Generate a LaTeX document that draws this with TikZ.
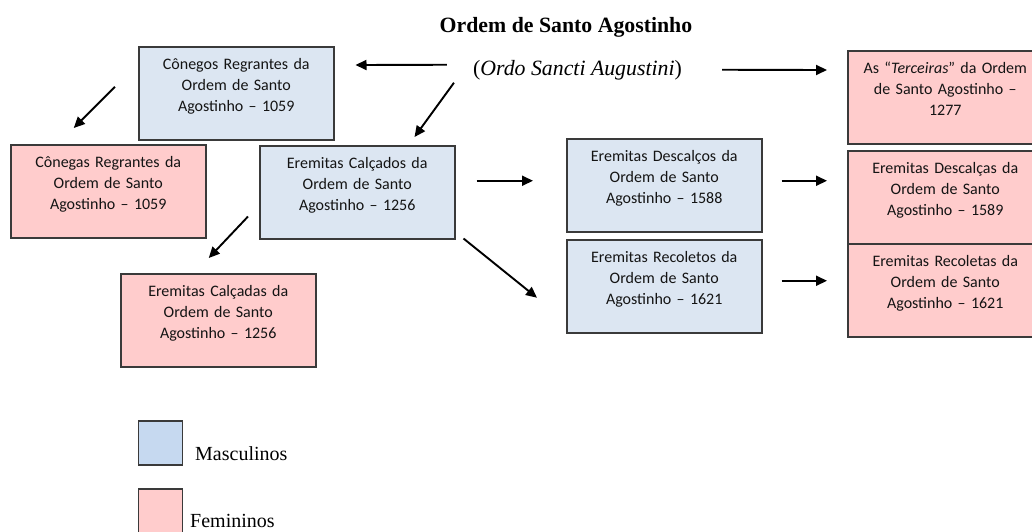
\documentclass[tikz,border=0pt]{standalone}
\usepackage{fontspec}
\setmainfont{Liberation Serif}
\newfontfamily\carlito{Carlito}
\usepackage{xcolor}
\usepackage{tikz}
\usetikzlibrary{calc,arrows.meta}
\definecolor{masc}{HTML}{DCE6F2}
\definecolor{fem}{HTML}{FFCCCC}
\definecolor{mascleg}{HTML}{C6D9F0}
\definecolor{femleg}{HTML}{FFCCCC}
\definecolor{border}{HTML}{3A3A3A}
\definecolor{ink}{HTML}{141414}
\tikzset{
  ordbox/.style={draw=border, line width=1.5pt, anchor=north west, text=ink,
    font=\carlito\fontsize{16}{21}\selectfont, text width=185pt, align=center,
    inner xsep=5pt, inner ysep=6pt, text height=17pt, text depth=64pt},
  mbox/.style={ordbox, fill=masc},
  wbox/.style={ordbox, fill=fem},
  legbox/.style={draw=border, line width=1.5pt, minimum size=44pt, inner sep=0pt},
  arr/.style={line width=1.9pt, -{Triangle[length=11pt,width=10pt]}},
  lab/.style={inner sep=0pt, anchor=base, font=\fontsize{21.8}{26}\selectfont}
}

\begin{document}
\begin{tikzpicture}[x=1pt, y=-1pt]
  \useasboundingbox (0,0) rectangle (1032,531);

  \node[lab, font=\bfseries\fontsize{21.8}{26}\selectfont] (title) at (566,32) {Ordem de Santo Agostinho};
  \node[lab] (sub) at (577.5,75) {(\textit{Ordo Sancti Augustini})};

  % masculine and feminine branches
  \node[mbox] (cr)  at (138,46)  {Cônegos Regrantes da\\Ordem de Santo\\Agostinho – 1059};
  \node[wbox] (cf)  at (10,144)  {Cônegas Regrantes da\\Ordem de Santo\\Agostinho – 1059};
  \node[mbox] (ec)  at (259,145) {Eremitas Calçados da\\Ordem de Santo\\Agostinho – 1256};
  \node[wbox] (ecf) at (120,273) {Eremitas Calçadas da\\Ordem de Santo\\Agostinho – 1256};
  \node[wbox] (ter) at (847,50)  {As “\textit{Terceiras}” da Ordem\\de Santo Agostinho –\\1277};
  \node[mbox] (ed)  at (566,138) {Eremitas Descalços da\\Ordem de Santo\\Agostinho – 1588};
  \node[mbox] (er)  at (566,239) {Eremitas Recoletos da\\Ordem de Santo\\Agostinho – 1621};
  \node[wbox] (edf) at (847,150) {Eremitas Descalças da\\Ordem de Santo\\Agostinho – 1589};
  \node[wbox] (erf) at (847,243) {Eremitas Recoletas da\\Ordem de Santo\\Agostinho – 1621};

  \draw[arr] ($(sub.west)+(-26,-5)$) -- ($(cr.north east)+(21,19)$);
  \draw[arr] ($(sub.west)+(-19,13)$) -- ($(ec.north east)+(-41,-8)$);
  \draw[arr] ($(sub.east)+(40,0)$) -- ($(ter.north west)+(-20,20)$);
  \draw[arr] ($(cr.west)+(-23,-6.5)$) -- ($(cf.north)+(-34.5,-16)$);
  \draw[arr] ($(ec.south west)+(-11,-23)$) -- ($(ecf.north)+(-9.5,-15)$);
  \draw[arr] ($(ec.east)+(21,-11.5)$) -- ($(ed.west)+(-33,-4.5)$);
  \draw[arr] ($(ec.south east)+(8,-1)$) -- ($(er.west)+(-29,11.5)$);
  \draw[arr] ($(ed.east)+(19,-4.5)$) -- ($(edf.west)+(-20,-16.5)$);
  \draw[arr] ($(er.east)+(19,-5.5)$) -- ($(erf.west)+(-20,-9.5)$);

  % legend
  \node[legbox, fill=mascleg] (legm) at (160.5,443) {};
  \node[legbox, fill=femleg]  (legf) at (160.5,511) {};
  \node[lab, anchor=base west, font=\fontsize{20}{24}\selectfont] (legmtext) at (195,460) {Masculinos};
  \node[lab, anchor=base west, font=\fontsize{20}{24}\selectfont] (legftext) at (190,527) {Femininos};
\end{tikzpicture}
\end{document}
